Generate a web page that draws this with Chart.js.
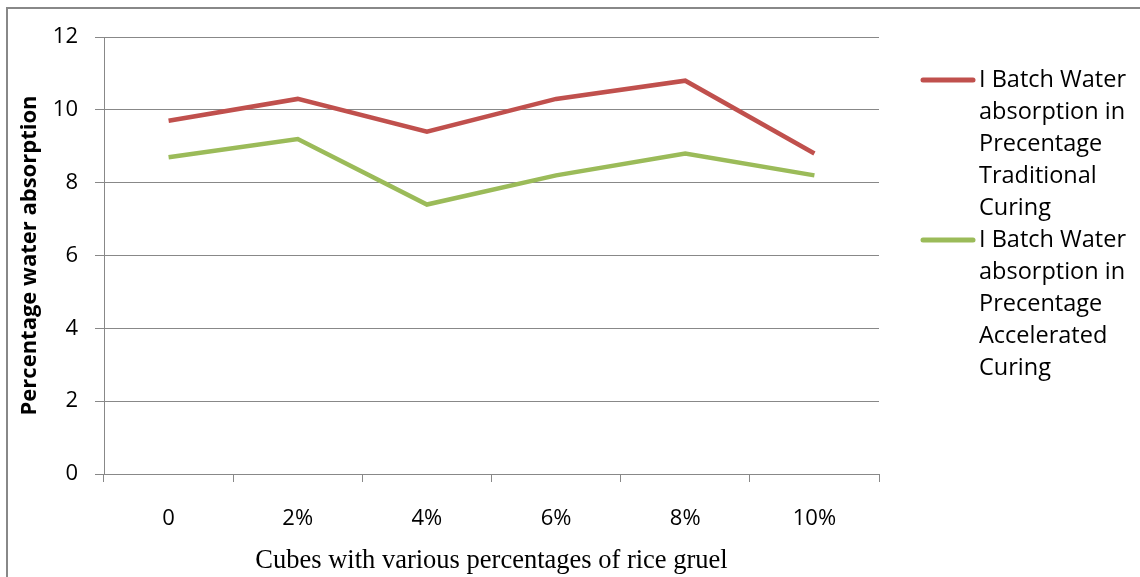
<!DOCTYPE html>
<html><head><meta charset="utf-8">
<script src="https://cdn.jsdelivr.net/npm/chart.js@4"></script>
<style>html,body{margin:0;padding:0;background:#fff;}#wrap{width:1140px;height:577px;position:relative;}</style>
</head><body><div id="wrap"><canvas id="c" width="1140" height="577"></canvas></div>
<script>
const categories = ["0", "2%", "4%", "6%", "8%", "10%"];
const traditional = [9.7, 10.3, 9.4, 10.3, 10.8, 8.8];
const accelerated = [8.7, 9.2, 7.4, 8.2, 8.8, 8.2];
const seriesNames = [
  ["I Batch Water", "absorption in", "Precentage", "Traditional", "Curing"],
  ["I Batch Water", "absorption in", "Precentage", "Accelerated", "Curing"]
];
const yTitle = "Percentage water absorption";
const xTitle = "Cubes with various percentages of rice gruel";
const colors = ["#C0504D", "#9BBB59"];

const frame = {
  id: "frame",
  beforeDraw(chart) {
    const ctx = chart.ctx;
    ctx.save();
    ctx.fillStyle = "#fff";
    ctx.fillRect(0, 0, chart.width, chart.height);
    ctx.strokeStyle = "#888888";
    ctx.lineWidth = 2;
    ctx.strokeRect(7, 8, 1200, 700);
    ctx.restore();
  }
};
const legendPlugin = {
  id: "customLegend",
  afterDraw(chart) {
    const ctx = chart.ctx;
    ctx.save();
    ctx.font = "23.5px 'Open Sans'";
    ctx.textBaseline = "middle";
    ctx.fillStyle = "#000";
    const starts = [80, 240];
    chart.data.datasets.forEach((ds, i) => {
      const y0 = starts[i];
      ctx.strokeStyle = ds.borderColor;
      ctx.lineWidth = 5;
      ctx.lineCap = "round";
      ctx.beginPath();
      ctx.moveTo(923, y0);
      ctx.lineTo(973, y0);
      ctx.stroke();
      seriesNames[i].forEach((t, j) => ctx.fillText(t, 979, y0 + j * 32));
    });
    ctx.restore();
  }
};

new Chart(document.getElementById("c"), {
  type: "line",
  data: {
    labels: categories,
    datasets: [
      { label: seriesNames[0].join(" "), data: traditional, borderColor: colors[0], backgroundColor: colors[0], borderWidth: 4.5, pointRadius: 0, tension: 0 },
      { label: seriesNames[1].join(" "), data: accelerated, borderColor: colors[1], backgroundColor: colors[1], borderWidth: 4.5, pointRadius: 0, tension: 0 }
    ]
  },
  options: {
    responsive: false,
    animation: false,
    layout: { padding: { left: 0, top: 37, right: 261, bottom: 0 } },
    plugins: { legend: { display: false }, tooltip: { enabled: false } },
    scales: {
      x: {
        offset: true,
        grid: { offset: true, drawOnChartArea: false, drawTicks: true, tickLength: 8, color: "#888888", lineWidth: 1 },
        border: { color: "#888888", width: 1 },
        ticks: { color: "#000", font: { family: "'Open Sans'", size: 22 }, padding: 24, maxRotation: 0 },
        title: { display: true, text: xTitle, color: "#000", font: { family: "'Liberation Serif'", size: 26.5 }, padding: { top: 0, bottom: 0 } },
        afterFit(s) { s.height = 103; }
      },
      y: {
        min: 0, max: 12,
        ticks: { stepSize: 2, color: "#000", font: { family: "'Open Sans'", size: 22 }, padding: 17 },
        grid: { color: "#888888", lineWidth: 1, tickLength: 9 },
        border: { color: "#888888", width: 1 },
        title: { display: true, text: yTitle, color: "#000", font: { family: "'Open Sans'", size: 22, weight: "bold" }, padding: { top: 17, bottom: 0 } },
        afterFit(s) { s.width = 104; }
      }
    }
  },
  plugins: [frame, legendPlugin]
});
</script></body></html>
